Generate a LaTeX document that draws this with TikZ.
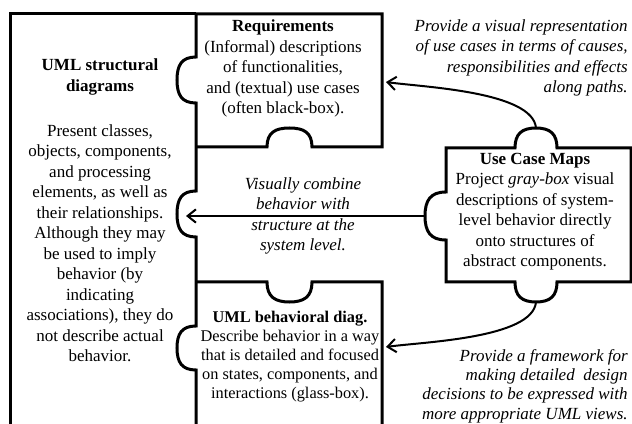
\documentclass[tikz,border=0pt]{standalone}
\usepackage{fontspec}
\setmainfont{Liberation Serif}
\usetikzlibrary{arrows.meta}

\tikzset{
	pieza/.style={line width=1.8pt, looseness=1.25},
	flecha/.style={line width=1.2pt, looseness=0.6, -{Straight Barb[length=5pt,width=8pt]}},
	texto/.style={inner sep=0pt, align=center, font=\fontsize{10.2}{12.3}\selectfont},
	titulo/.style={texto, font=\fontsize{10.2}{12.3}\selectfont\bfseries},
	nota/.style={texto, font=\fontsize{10.2}{12.3}\selectfont\itshape}
}

\begin{document}
\begin{tikzpicture}[x=0.6pt, y=0.6pt]
	% Marco de la imagen
	\clip (0,0) rectangle (632,-424);
	
	% Columna izquierda (diagramas estructurales)
	\draw[pieza] (196,-14) -- (10,-14) -- (10,-440);
	\draw[pieza] (196,-14) -- (196,-57) to[out=180,in=90] (177,-80) to[out=-90,in=180] (196,-103)
		-- (196,-191) to[out=180,in=90] (177,-214) to[out=-90,in=180] (196,-237)
		-- (196,-326) to[out=180,in=90] (177,-348) to[out=-90,in=180] (196,-370) -- (196,-440);
	
	% Pieza de requisitos
	\draw[pieza] (196,-14) -- (382,-14) -- (382,-147) -- (312,-147)
		to[out=90,in=0] (289.5,-128) to[out=180,in=90] (267,-147) -- (196,-147);
	
	% Pieza de diagramas de comportamiento
	\draw[pieza] (196,-282) -- (267,-282) to[out=-90,in=180] (289.5,-302)
		to[out=0,in=-90] (312,-282) -- (382,-282) -- (382,-440);
	
	% Pieza de Use Case Maps
	\draw[pieza] (446,-148) -- (515,-148) to[out=90,in=180] (536,-128) to[out=0,in=90] (557,-148)
		-- (631,-148) -- (631,-282) -- (557,-282) to[out=-90,in=0] (536,-302) to[out=180,in=-90] (515,-282)
		-- (446,-282) -- (446,-240) to[out=180,in=-90] (425,-216) to[out=90,in=180] (446,-192) -- cycle;
	
	% Puntos de las flechas
	\coordinate (ucmArriba) at (536,-128);
	\coordinate (ucmIzq) at (425,-216);
	\coordinate (ucmAbajo) at (536,-302);
	\coordinate (reqDer) at (386,-82);
	\coordinate (estIzq) at (186,-216);
	\coordinate (compDer) at (386,-347);
	
	% Flechas
	\draw[flecha] (ucmArriba) to[out=95,in=-8] (reqDer);
	\draw[flecha] (ucmIzq) -- (estIzq);
	\draw[flecha] (ucmAbajo) to[out=-95,in=8] (compDer);
	
	% Textos de las piezas
	\node[titulo] (estTitulo) at (100,-77) {UML structural\\diagrams};
	\node[texto] (estTexto) at (100,-243) {Present classes,\\objects, components,\\and processing\\elements, as well as\\their relationships.\\Although they may\\be used to imply\\behavior (by\\indicating\\associations), they do\\not describe actual\\behavior.};
	\node[texto] (req) at (283,-68.5) {\textbf{Requirements}\\(Informal) descriptions\\of functionalities,\\and (textual) use cases\\(often black-box).};
	\node[texto] (ucm) at (535,-211.5) {\textbf{Use Case Maps}\\Project \textit{gray-box} visual\\descriptions of system-\\level behavior directly\\onto structures of\\abstract components.};
	\node[texto, font=\fontsize{9.8}{11.4}\selectfont] (comp) at (290,-356.5) {\textbf{UML behavioral diag.}\\Describe behavior in a way\\that is detailed and focused\\on states, components, and\\interactions (glass-box).};
	
	% Notas en cursiva
	\node[nota] (combinar) at (303,-216) {Visually combine\\behavior with\\structure at the\\system level.};
	\node[nota, align=right, anchor=east] (notaReq) at (628,-58) {Provide a visual representation\\of use cases in terms of causes,\\responsibilities and effects\\along paths.};
	\node[nota, align=right, anchor=east, font=\fontsize{10.2}{11.6}\selectfont\itshape] (notaComp) at (628,-386) {Provide a framework for\\making detailed\ \ design\\decisions to be expressed with\\more appropriate UML views.};
\end{tikzpicture}
\end{document}
